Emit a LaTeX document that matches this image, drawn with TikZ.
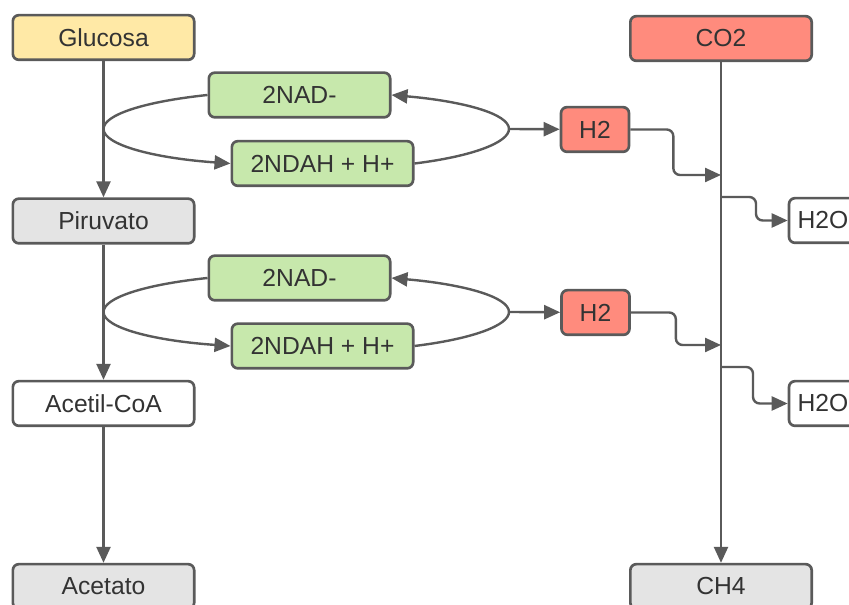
\documentclass[tikz,border=0pt]{standalone}
\usepackage{fontspec}
\setmainfont{Liberation Sans}
\usetikzlibrary{arrows.meta}
\definecolor{linegray}{HTML}{5A5A5A}
\definecolor{txtgray}{HTML}{333333}
\definecolor{yellowfill}{HTML}{FFE9A6}
\definecolor{greenfill}{HTML}{C7E8AC}
\definecolor{redfill}{HTML}{FF8B7D}
\definecolor{grayfill}{HTML}{E4E4E4}

\begin{document}
\begin{tikzpicture}[x=0.75pt, y=0.75pt, font=\fontsize{18.5}{22}\selectfont,
    >={Triangle[length=12pt, width=10.5pt]},
    box/.style={draw=linegray, line width=2pt, rounded corners=4.5pt, text=txtgray, minimum height=33.5pt},
    bigbox/.style={box, minimum width=136pt},
    smallbox/.style={box, minimum width=51pt},
    conn/.style={draw=linegray, line width=1.8pt}]
    \clip (0, 0) rectangle (849, 605);

    \node (glucosa) [bigbox, fill=yellowfill] at (103.5, 567.5) {Glucosa};
    \node (piruvato) [bigbox, fill=grayfill] at (103.5, 384) {Piruvato};
    \node (acetil) [bigbox, fill=white] at (103.5, 201.5) {Acetil-CoA};
    \node (acetato) [bigbox, fill=grayfill] at (103.5, 18.5) {Acetato};
    \node (co2) [bigbox, fill=redfill] at (721, 566.5) {CO2};
    \node (ch4) [bigbox, fill=grayfill] at (721, 18.5) {CH4};

    \node (nada) [bigbox, fill=greenfill] at (299.5, 510) {2NAD-};
    \node (ndaha) [bigbox, fill=greenfill] at (322.5, 441.5) {2NDAH + H+};
    \node (h2a) [smallbox, fill=redfill] at (595, 475.5) {H2};
    \node (h2oa) [smallbox, fill=white] at (823, 384.5) {H2O};

    \node (nadb) [bigbox, fill=greenfill] at (299.5, 327) {2NAD-};
    \node (ndahb) [bigbox, fill=greenfill] at (322.5, 259) {2NDAH + H+};
    \node (h2b) [smallbox, fill=redfill] at (595.5, 292.5) {H2};
    \node (h2ob) [smallbox, fill=white] at (823, 201.5) {H2O};

    \coordinate (tipla) at (103.5, 476);
    \coordinate (tipra) at (509, 476);
    \coordinate (tiplb) at (103.5, 293);
    \coordinate (tiprb) at (509, 293);
    \coordinate (ina) at (721, 430);
    \coordinate (outa) at (721, 408);
    \coordinate (inb) at (721, 260);
    \coordinate (outb) at (721, 238);

    \draw[conn, ->] (glucosa) -- (piruvato);
    \draw[conn, ->] (piruvato) -- (acetil);
    \draw[conn, ->] (acetil) -- (acetato);
    \draw[conn, ->] (co2) -- (ch4);

    % half ellipses round the NAD boxes
    \draw[conn, ->] (nada.west) to[out=186, in=90, out distance=48pt, in distance=10.6pt] (tipla)
        to[out=-90, in=176, out distance=11.9pt, in distance=57.5pt] (ndaha.west);
    \draw[conn, ->] (ndaha.east) to[out=7, in=-90, out distance=44pt, in distance=10pt] (tipra)
        to[out=90, in=-5, out distance=11.4pt, in distance=54pt] (nada.east);
    \draw[conn, ->] (tipra) -- (h2a);
    \draw[conn, ->, rounded corners=5pt] (h2a.east) -- ++(43, 0) |- (ina);
    \draw[conn, ->, rounded corners=5pt] (outa) -- ++(35, 0) |- (h2oa.west);

    \draw[conn, ->] (nadb.west) to[out=186, in=90, out distance=48pt, in distance=10.6pt] (tiplb)
        to[out=-90, in=176, out distance=11.9pt, in distance=57.5pt] (ndahb.west);
    \draw[conn, ->] (ndahb.east) to[out=7, in=-90, out distance=44pt, in distance=10pt] (tiprb)
        to[out=90, in=-5, out distance=11.4pt, in distance=54pt] (nadb.east);
    \draw[conn, ->] (tiprb) -- (h2b);
    \draw[conn, ->, rounded corners=5pt] (h2b.east) -- ++(45, 0) |- (inb);
    \draw[conn, ->, rounded corners=5pt] (outb) -- ++(32, 0) |- (h2ob.west);
\end{tikzpicture}
\end{document}
